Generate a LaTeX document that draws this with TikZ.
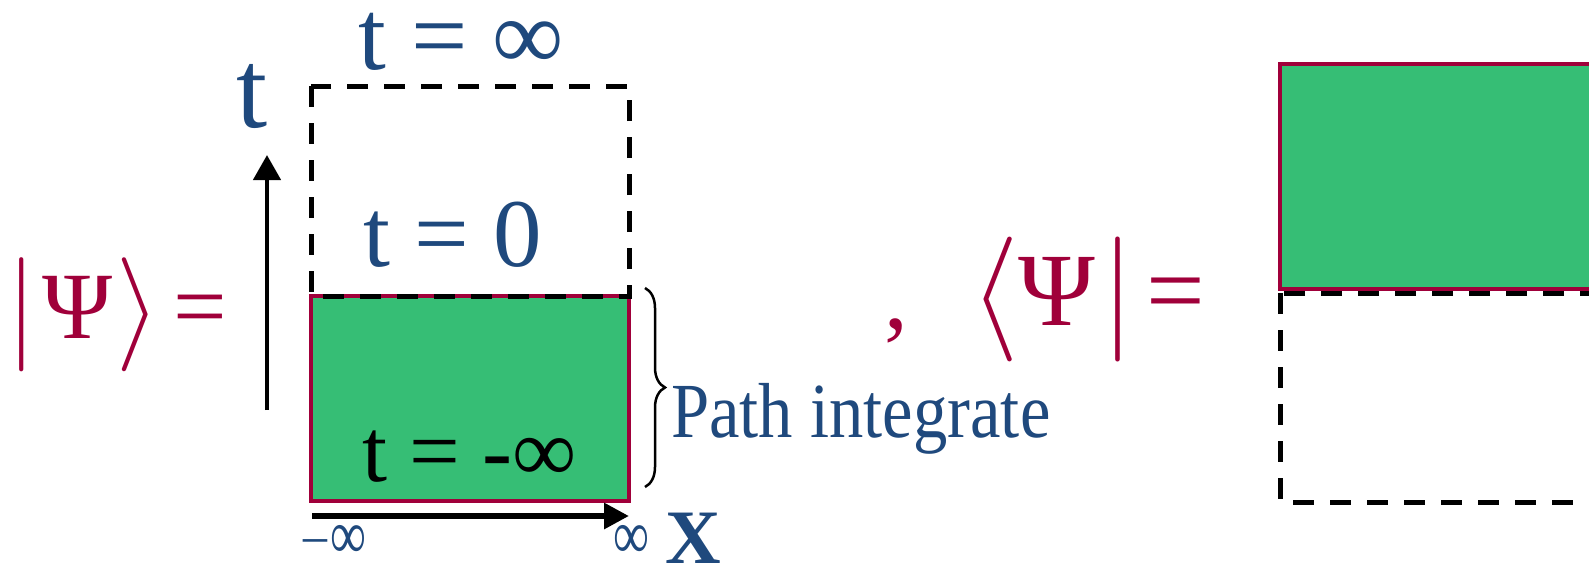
\documentclass[tikz,border=0pt]{standalone}
\usepackage{fontspec}
\usepackage{unicode-math}
\setmainfont{Liberation Serif}
\setmathfont{Latin Modern Math}
\newfontfamily\narrowfont{Liberation Serif}[FakeStretch=0.88]
\usetikzlibrary{arrows.meta,decorations.pathreplacing}
\definecolor{psiRed}{RGB}{160,0,58}
\definecolor{labBlue}{RGB}{31,73,125}
\definecolor{fieldGreen}{RGB}{54,190,117}
\newcommand{\fsz}[1]{\fontsize{#1}{#1}\selectfont}
\newcommand{\tallinf}{\scalebox{0.95}[1.3]{∞}}

\begin{document}
\begin{tikzpicture}[x=1pt,y=-1pt,
  lab/.style={inner sep=0pt,anchor=base west},
  field/.style={draw=psiRed,line width=3.5pt,fill=fieldGreen},
  dashbox/.style={draw=black,line width=5pt,dash pattern=on 21pt off 16pt},
  axis/.style={draw=black,line width=4.5pt,-{Triangle[length=25pt,width=27pt]}},
  xaxis/.style={draw=black,line width=6pt,-{Triangle[length=25pt,width=25pt]}},
  brace/.style={draw=black,line width=2.5pt,decorate,decoration={brace,amplitude=20pt}}]
\useasboundingbox (0,0) rectangle (1589,565);
\clip (0,0) rectangle (1589,565);
% ket state
\node[lab,psiRed,font=\fsz{95}] (ket) at (8,338)
  {$\bigl|$\kern0.08em Ψ\kern0.04em$\bigr\rangle$\kern0.13em=};
% time axis
\coordinate (tbot) at (267,410);
\coordinate (ttop) at (267,155);
\draw[axis] (tbot) -- (ttop);
\node[lab,labBlue,font=\fsz{112}] (tlab) at (236,127) {t};
% field region and the empty future
\draw[field] (311,296) rectangle (629,501);
\draw[dashbox] (311,86) rectangle (629,296);
\node[lab,labBlue,font=\fsz{100}] (tinf) at (358,69) {t = ∞};
\node[lab,labBlue,font=\fsz{97}] (tzero) at (363,266) {t = 0};
\node[lab,black,font=\fsz{90}] (tminf) at (362,481) {t = -∞};
% brace
\draw[brace] (645,288) -- (645,487);
\node[lab,labBlue,font=\narrowfont\fsz{78}] (pathint) at (671,437) {Path integrate};
% space axis
\coordinate (xleft) at (312,516);
\coordinate (xright) at (629,516);
\draw[xaxis] (xleft) -- (xright);
\node[lab,labBlue,font=\fsz{53}] (xminf) at (300,558) {−\tallinf};
\node[lab,labBlue,font=\fsz{53}] (xinf) at (613,558) {\tallinf};
\node[lab,labBlue,font=\fsz{77}\bfseries] (xlab) at (665,563) {X};
% bra state
\node[lab,psiRed,font=\fsz{95}] (comma) at (884,328) {,};
\node[lab,psiRed,font=\fsz{104}] (bra) at (969,325)
  {$\bigl\langle$Ψ\kern0.08em$\bigr|$\kern0.14em=};
\draw[dashbox] (1280,293) rectangle (1620,502);
\draw[field] (1280,64) rectangle (1620,289);
\end{tikzpicture}
\end{document}
